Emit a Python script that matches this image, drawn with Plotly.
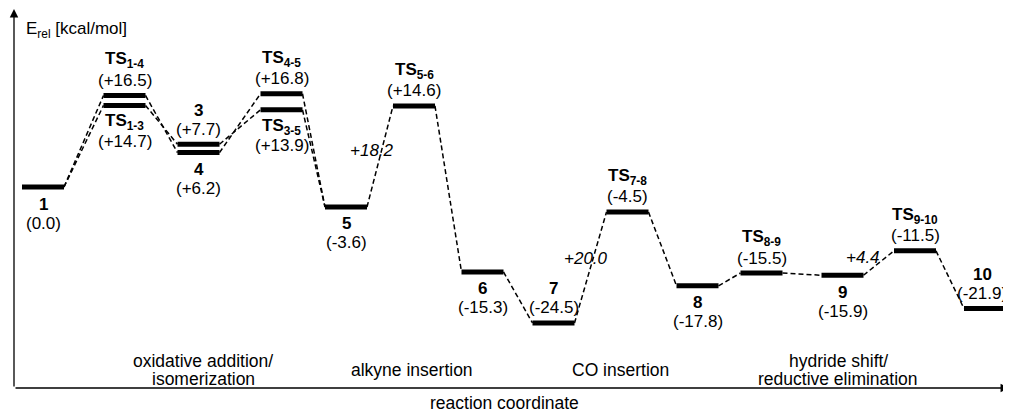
import plotly.graph_objects as go

# ---- data ----
labels = ["1", "TS<sub>1-4</sub>", "TS<sub>1-3</sub>", "3", "4", "TS<sub>4-5</sub>", "TS<sub>3-5</sub>",
          "5", "TS<sub>5-6</sub>", "6", "7", "TS<sub>7-8</sub>", "8", "TS<sub>8-9</sub>", "9",
          "TS<sub>9-10</sub>", "10"]
energies = [0.0, 16.5, 14.7, 7.7, 6.2, 16.8, 13.9, -3.6, 14.6, -15.3, -24.5, -4.5, -17.8, -15.5, -15.9, -11.5, -21.9]
coord = [43, 124.5, 124.5, 198.5, 198.5, 281.5, 281.5, 346, 414, 482.5, 553.5, 627.5, 697.5, 761.5, 842.5, 915, 985]
label_side = ["below", "above", "below", "above", "below", "above", "below", "below", "above",
              "below", "above", "above", "below", "above", "below", "above", "above"]
connections = [(0, 1), (0, 2), (1, 4), (2, 3), (3, 6), (4, 5), (5, 7), (6, 7), (7, 8), (8, 9),
               (9, 10), (10, 11), (11, 12), (12, 13), (13, 14), (14, 15), (15, 16)]
barriers = [("+18.2", 7, 8), ("+20.0", 10, 11), ("+4.4", 14, 15)]
stage_lines = ["oxidative addition/", "isomerization", "alkyne insertion", "CO insertion",
               "hydride shift/", "reductive elimination"]
stage_x = [203, 203, 412, 620, 838, 838]
stage_y = [361, 379, 370, 370, 361, 379]

# ---- style / layout ----
OFF = 8                      # page body margin of the browser
FW, FH = 1011 - OFF, 414 - OFF
ZERO_PX, PX_PER = 187.0, 5.55
HALF = 21.0
barrier_shift = [(-8, 6), (-5, 9), (-16, 6)]
FONT = "Liberation Sans, Arial, Helvetica, sans-serif"
FS = 17


def py(px):
    return (ZERO_PX - px) / PX_PER


def paper_x(px):
    return (px - OFF) / FW


def paper_y(px):
    return 1 - (px - OFF) / FH


fig = go.Figure()

# connectors
cx, cy = [], []
for a, b in connections:
    cx += [coord[a] + HALF, coord[b] - HALF, None]
    cy += [energies[a], energies[b], None]
fig.add_trace(go.Scatter(x=cx, y=cy, mode="lines", hoverinfo="skip",
                         line=dict(color="black", width=1.5, dash="5px,3px")))

# levels
bx, by = [], []
for x, e in zip(coord, energies):
    bx += [x - HALF, x + HALF, None]
    by += [e, e, None]
fig.add_trace(go.Scatter(x=bx, y=by, mode="lines", hoverinfo="skip",
                         line=dict(color="black", width=5)))

font = dict(size=FS, family=FONT, color="black")
ann = []
n = len(labels)
for i, (name, x, e, side) in enumerate(zip(labels, coord, energies, label_side)):
    val = "(%+.1f)" % e if e != 0 else "(0.0)"
    has_sub = "<sub>" in name
    if side == "above":
        s1, s2 = (35 if has_sub else 34), 15
    else:
        s1, s2 = -17, -36
    dx = -3 if i == n - 1 else 0
    ann.append(dict(x=x, y=e, yshift=s1, xshift=dx, text="<b>%s</b>" % name, showarrow=False, font=font))
    ann.append(dict(x=x, y=e, yshift=s2, xshift=dx, text=val, showarrow=False, font=font))

for (txt, a, b), (dx, dy) in zip(barriers, barrier_shift):
    mx = (coord[a] + HALF + coord[b] - HALF) / 2
    my = (energies[a] + energies[b]) / 2
    ann.append(dict(x=mx, y=my, xshift=dx, yshift=dy, text="<i>%s</i>" % txt, showarrow=False,
                    font=font))

for txt, x, y in zip(stage_lines, stage_x, stage_y):
    ann.append(dict(x=paper_x(x), y=paper_y(y), xref="paper", yref="paper", xanchor="center",
                    yanchor="middle", text=txt, showarrow=False, font=dict(font, size=17.5)))

ann.append(dict(x=paper_x(504), y=paper_y(403), xref="paper", yref="paper", xanchor="center",
                yanchor="middle", text="reaction coordinate", showarrow=False,
                font=dict(font, size=17.5)))
ann.append(dict(x=paper_x(24), y=paper_y(30), xref="paper", yref="paper", xanchor="left",
                yanchor="middle", text="E<sub>rel</sub> [kcal/mol]", showarrow=False, font=font))

# axes arrows
ann.append(dict(x=paper_x(14), y=paper_y(9), xref="paper", yref="paper", ax=0, ay=379, text="",
                showarrow=True, arrowhead=2, arrowsize=1.3, arrowwidth=1.3, arrowcolor="black"))
ann.append(dict(x=paper_x(1009), y=paper_y(388), xref="paper", yref="paper", ax=-995, ay=0, text="",
                showarrow=True, arrowhead=2, arrowsize=1.3, arrowwidth=1.3, arrowcolor="black"))

fig.update_layout(
    width=FW, height=FH, margin=dict(l=0, r=0, t=0, b=0),
    paper_bgcolor="white", plot_bgcolor="white", showlegend=False,
    xaxis=dict(range=[OFF, OFF + FW], visible=False, fixedrange=True),
    yaxis=dict(range=[py(OFF + FH), py(OFF)], visible=False, fixedrange=True),
    annotations=ann,
)
fig.write_html("out.html")
